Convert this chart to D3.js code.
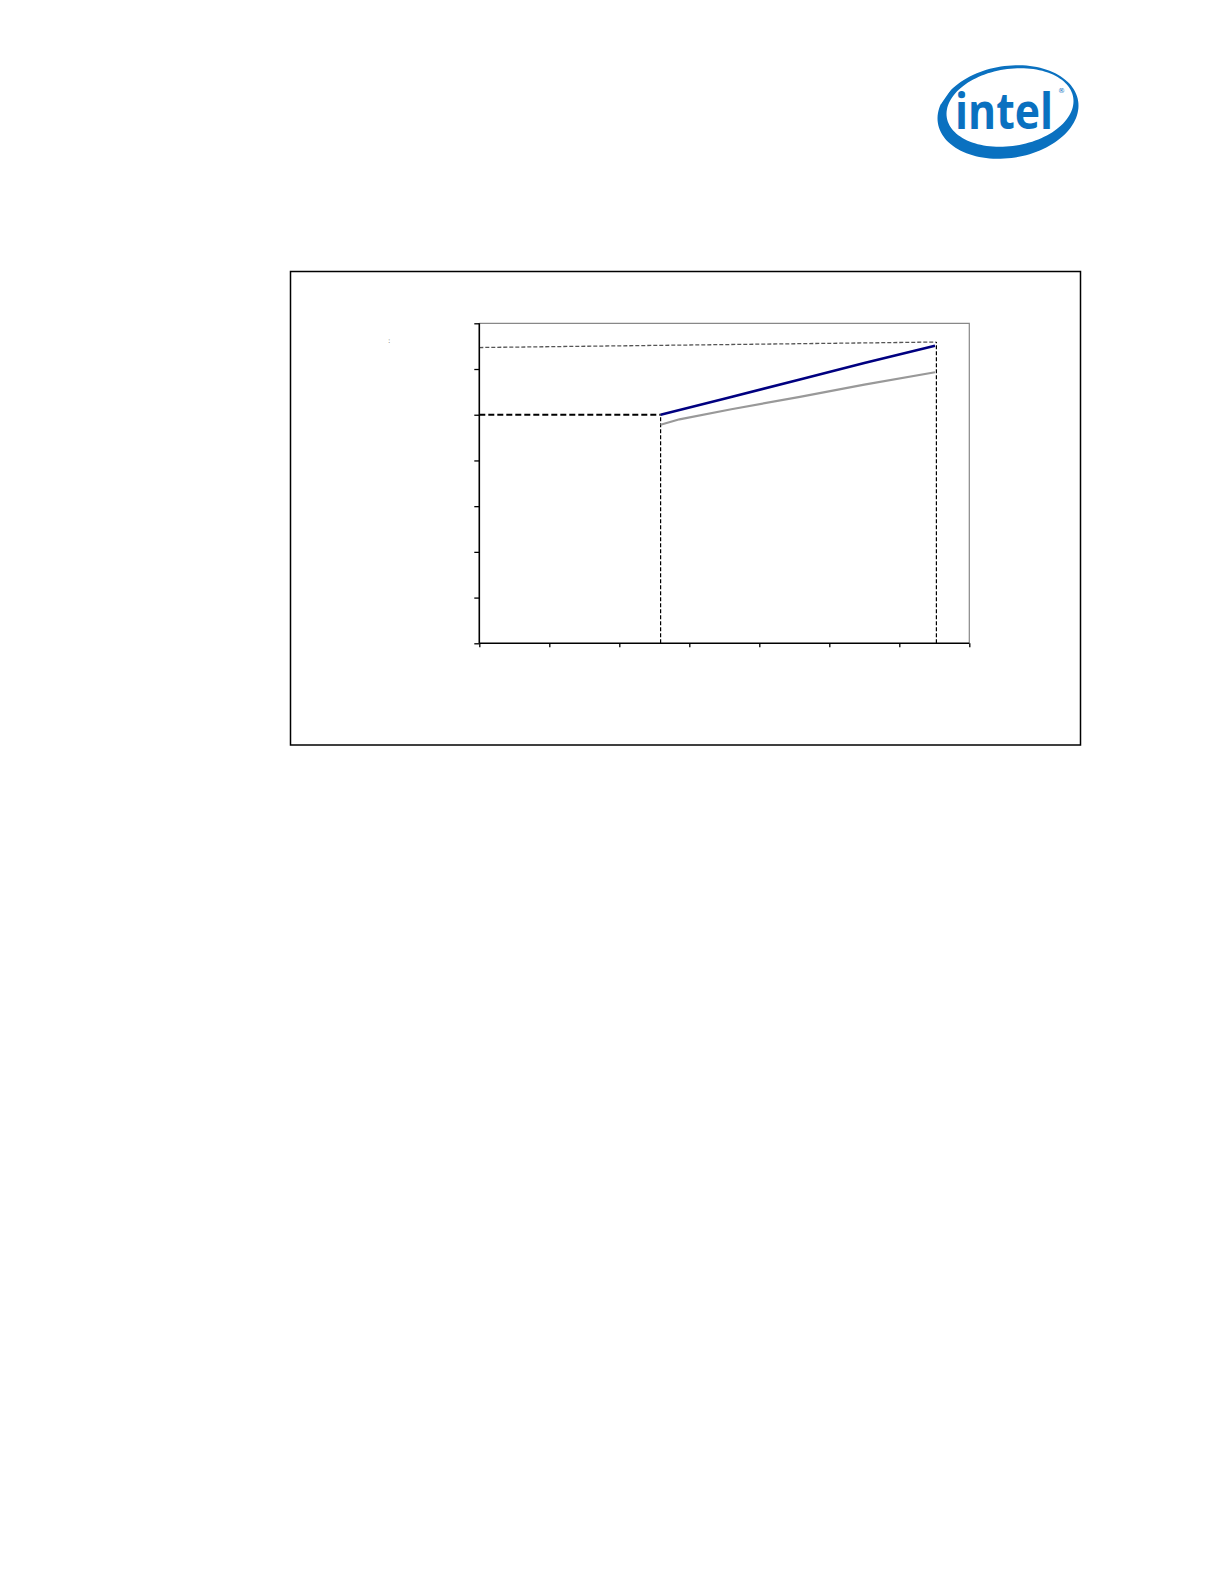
<!DOCTYPE html>
<html>
<head>
<meta charset="utf-8">
<script src="https://cdn.jsdelivr.net/npm/d3@7"></script>
<style>
  html, body { margin: 0; padding: 0; background: #fff; }
  svg { display: block; }
</style>
</head>
<body>
<script>
// ---- data (chart units) ----
const xTicks = [0, 1, 2, 3, 4, 5, 6, 7];
const yTicks = [0, 1, 2, 3, 4, 5, 6, 7];
const bluePoints = [[2.59, 5.0], [3.5, 5.35], [4.58, 5.77], [5.5, 6.13], [6.51, 6.51]];
const grayPoints = [[2.59, 4.78], [2.86, 4.9], [3.6, 5.12], [4.58, 5.39], [5.5, 5.66], [6.51, 5.93]];
const limitTopLine = [[0, 6.47], [6.53, 6.59]];
const limitLeftLine = [[0, 5.0], [2.59, 5.0]];
const dropLine1 = [[2.59, 0], [2.59, 5.0]];
const dropLine2 = [[6.53, 0], [6.53, 6.59]];
const markText = ":";

const W = 1224, H = 1584;
const svg = d3.select("body").append("svg").attr("width", W).attr("height", H);

// ---- Intel logo ----
const logo = svg.append("g");
const cx = 1008, cy = 112;
const outer = d3.path();
function ellipsePath(p, cx, cy, rx, ry, rot) {
  const n = 120;
  const r = rot * Math.PI / 180;
  for (let i = 0; i <= n; i++) {
    const t = i / n * 2 * Math.PI;
    const ex = rx * Math.cos(t), ey = ry * Math.sin(t);
    const xx = cx + ex * Math.cos(r) - ey * Math.sin(r);
    const yy = cy + ex * Math.sin(r) + ey * Math.cos(r);
    if (i === 0) p.moveTo(xx, yy); else p.lineTo(xx, yy);
  }
  p.closePath();
}
ellipsePath(outer, cx, cy, 71, 46, -9);
ellipsePath(outer, cx + 2, cy - 4.5, 64, 38.5, -9);
const clip = logo.append("clipPath").attr("id", "gapclip");
clip.append("path")
  .attr("d", "M900,40 H1100 V180 H900 Z M920,55 L966,55 L966,68 L941,104 L920,104 Z")
  .attr("clip-rule", "evenodd");
logo.append("path").attr("d", outer.toString()).attr("fill", "#0a71c0")
  .attr("fill-rule", "evenodd").attr("clip-path", "url(#gapclip)");
logo.append("text").attr("transform", "translate(955,129) scale(1,1.15)")
  .attr("font-family", "Open Sans, Liberation Sans, sans-serif").attr("font-weight", 700)
  .attr("font-size", 44).attr("fill", "#0a71c0")
  .attr("textLength", 98).attr("lengthAdjust", "spacingAndGlyphs").text("intel");
logo.append("text").attr("x", 1058).attr("y", 93)
  .attr("font-family", "DejaVu Sans, sans-serif").attr("font-size", 7).attr("fill", "#0a71c0").text("®");

// ---- chart frame ----
svg.append("rect").attr("x", 290.5).attr("y", 271.5).attr("width", 790).attr("height", 473.5)
  .attr("fill", "none").attr("stroke", "#000").attr("stroke-width", 1.5);

const plot = { left: 479.3, right: 969.3, top: 323.3, bottom: 643.3 };
const x = d3.scaleLinear().domain([0, 7]).range([plot.left, plot.right]);
const y = d3.scaleLinear().domain([0, 7]).range([plot.bottom, plot.top]);

// plot area border (top & right gray)
svg.append("path")
  .attr("d", `M${plot.left},${plot.top} H${plot.right} V${plot.bottom}`)
  .attr("fill", "none").attr("stroke", "#888").attr("stroke-width", 1.2);

const line = d3.line().x(d => x(d[0])).y(d => y(d[1]));

// dashed reference lines
svg.append("path").attr("d", line(limitTopLine)).attr("fill", "none")
  .attr("stroke", "#555").attr("stroke-width", 1.3).attr("stroke-dasharray", "4,2");
svg.append("path").attr("d", line(limitLeftLine)).attr("fill", "none")
  .attr("stroke", "#000").attr("stroke-width", 2).attr("stroke-dasharray", "6,3");
svg.append("path").attr("d", line(dropLine1)).attr("fill", "none")
  .attr("stroke", "#000").attr("stroke-width", 1.2).attr("stroke-dasharray", "4,2");
svg.append("path").attr("d", line(dropLine2)).attr("fill", "none")
  .attr("stroke", "#000").attr("stroke-width", 1.2).attr("stroke-dasharray", "4,2");

// data lines
svg.append("path").attr("d", line(grayPoints)).attr("fill", "none")
  .attr("stroke", "#999").attr("stroke-width", 2.2);
svg.append("path").attr("d", line(bluePoints)).attr("fill", "none")
  .attr("stroke", "#000080").attr("stroke-width", 2.5);

// axes
const yAxis = d3.axisLeft(y).tickValues(yTicks).tickSize(5).tickFormat("");
const xAxis = d3.axisBottom(x).tickValues(xTicks).tickSize(4).tickFormat("");
const gy = svg.append("g").attr("transform", `translate(${plot.left},0)`).call(yAxis);
const gx = svg.append("g").attr("transform", `translate(0,${plot.bottom})`).call(xAxis);
[gx, gy].forEach(g => {
  g.select(".domain").attr("stroke", "#000").attr("stroke-width", 1.6);
  g.selectAll(".tick line").attr("stroke", "#000").attr("stroke-width", 1.3);
});
gy.select(".domain").attr("d", `M0,${plot.bottom}V${plot.top}`);
gx.select(".domain").attr("d", `M${plot.left},0H${plot.right}`);

// small stray mark
svg.append("text").attr("x", 388).attr("y", 343)
  .attr("font-family", "DejaVu Sans, sans-serif").attr("font-size", 7).attr("fill", "#555").text(markText);
</script>
</body>
</html>
